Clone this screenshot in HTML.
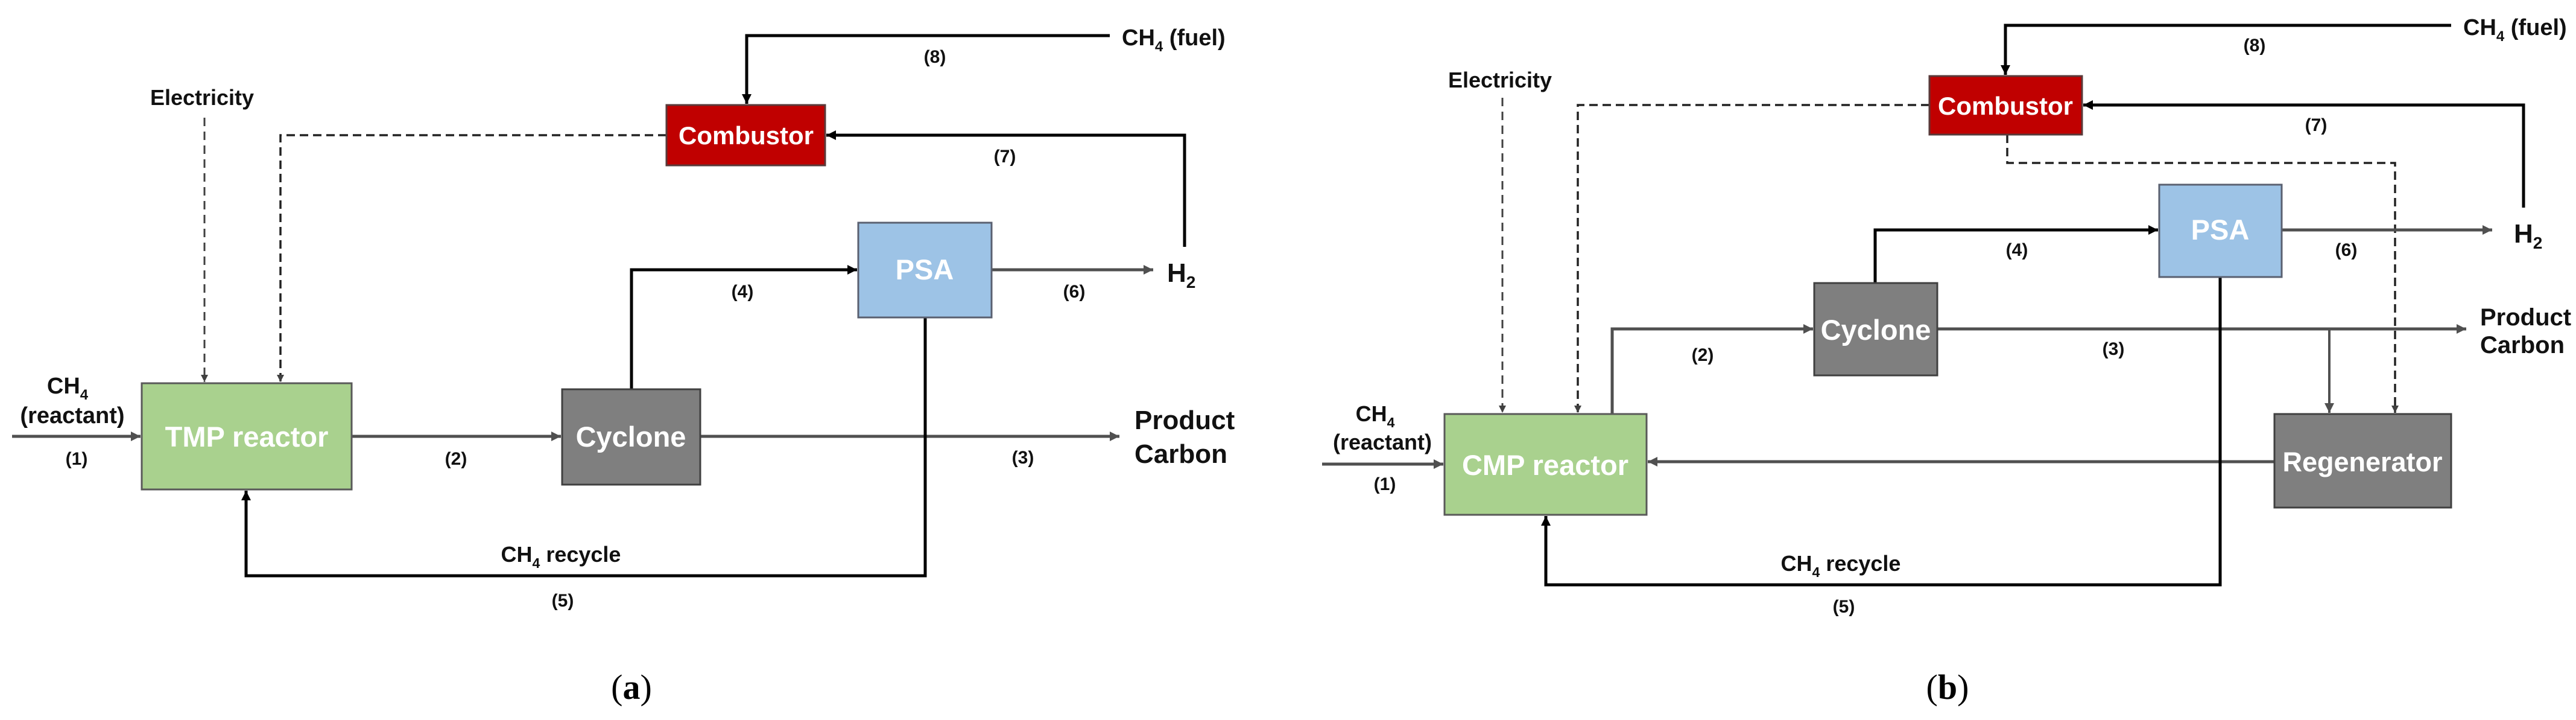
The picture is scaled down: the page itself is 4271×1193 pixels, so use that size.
<!DOCTYPE html>
<html><head><meta charset="utf-8"><style>
html,body{margin:0;padding:0;background:#fff}
svg{display:block}
text{font-family:"Liberation Sans",Arial,sans-serif;font-weight:bold;fill:#111}
.lab{font-size:30px}
.box{font-size:47px;fill:#fff}
.cap{font-family:"Liberation Serif",serif;font-weight:normal;font-size:58px;fill:#000}
</style></head><body>
<svg width="4271" height="1193" viewBox="0 0 4271 1193" xmlns="http://www.w3.org/2000/svg">
<defs>
<marker id="ab" markerUnits="userSpaceOnUse" markerWidth="20" markerHeight="20" refX="16" refY="8" orient="auto"><path d="M0,0 L16,8 L0,16 z" fill="#000"/></marker>
<marker id="ag" markerUnits="userSpaceOnUse" markerWidth="20" markerHeight="20" refX="16" refY="8" orient="auto"><path d="M0,0 L16,8 L0,16 z" fill="#505050"/></marker>
<marker id="ad" markerUnits="userSpaceOnUse" markerWidth="16" markerHeight="16" refX="12" refY="6" orient="auto"><path d="M0,0 L12,6 L0,12 z" fill="#404040"/></marker>
</defs>

<!-- ===== Panel (a) ===== -->
<g fill="none">
<path d="M1840,59 H1238 V172" stroke="#000" stroke-width="5" marker-end="url(#ab)"/>
<path d="M1964,409 V224 H1370" stroke="#000" stroke-width="5" marker-end="url(#ab)"/>
<path d="M339,195 V633" stroke="#404040" stroke-width="3" stroke-dasharray="14,9" marker-end="url(#ad)"/>
<path d="M1105,224 H465 V633" stroke="#222" stroke-width="3.5" stroke-dasharray="14,8" marker-end="url(#ad)"/>
<path d="M1047,645 V447 H1421" stroke="#000" stroke-width="5" marker-end="url(#ab)"/>
<path d="M1644,447 H1912" stroke="#505050" stroke-width="5" marker-end="url(#ag)"/>
<path d="M20,723 H233" stroke="#505050" stroke-width="5" marker-end="url(#ag)"/>
<path d="M583,723 H930" stroke="#505050" stroke-width="5" marker-end="url(#ag)"/>
<path d="M1161,723 H1856" stroke="#505050" stroke-width="5" marker-end="url(#ag)"/>
<path d="M1534,526 V954 H408 V813" stroke="#000" stroke-width="5" marker-end="url(#ab)"/>
</g>
<rect x="1105" y="174" width="263" height="100" fill="#c00000" stroke="#5a3a3a" stroke-width="3"/>
<rect x="1423" y="369" width="221" height="157" fill="#9dc3e6" stroke="#5a6070" stroke-width="3"/>
<rect x="235" y="635" width="348" height="176" fill="#a9d18e" stroke="#595959" stroke-width="3"/>
<rect x="932" y="645" width="229" height="158" fill="#7f7f7f" stroke="#404040" stroke-width="3"/>
<text class="box" x="1237" y="239" text-anchor="middle" style="font-size:42px">Combustor</text>
<text class="box" x="1533" y="463" text-anchor="middle">PSA</text>
<text class="box" x="409" y="740" text-anchor="middle">TMP reactor</text>
<text class="box" x="1046" y="740" text-anchor="middle">Cyclone</text>
<text x="1860" y="75" style="font-size:38px">CH<tspan dy="10" style="font-size:24px">4</tspan><tspan dy="-10"> (fuel)</tspan></text>
<text class="lab" x="1550" y="104" text-anchor="middle">(8)</text>
<text x="335" y="174" text-anchor="middle" style="font-size:36px">Electricity</text>
<text class="lab" x="1666" y="269" text-anchor="middle">(7)</text>
<text class="lab" x="1231" y="493" text-anchor="middle">(4)</text>
<text class="lab" x="1781" y="493" text-anchor="middle">(6)</text>
<text x="1935" y="467" style="font-size:44px">H<tspan dy="10" style="font-size:28px">2</tspan></text>
<text x="112" y="652" text-anchor="middle" style="font-size:38px">CH<tspan dy="10" style="font-size:24px">4</tspan></text>
<text x="120" y="701" text-anchor="middle" style="font-size:38px">(reactant)</text>
<text class="lab" x="127" y="770" text-anchor="middle">(1)</text>
<text class="lab" x="756" y="770" text-anchor="middle">(2)</text>
<text class="lab" x="1696" y="768" text-anchor="middle">(3)</text>
<text x="1881" y="711" style="font-size:44px">Product</text>
<text x="1881" y="767" style="font-size:44px">Carbon</text>
<text x="930" y="931" text-anchor="middle" style="font-size:36px">CH<tspan dy="10" style="font-size:23px">4</tspan><tspan dy="-10"> recycle</tspan></text>
<text class="lab" x="933" y="1005" text-anchor="middle">(5)</text>
<text class="cap" x="1047" y="1158" text-anchor="middle">(<tspan font-weight="bold">a</tspan>)</text>

<!-- ===== Panel (b) ===== -->
<g fill="none">
<path d="M4064,42 H3325 V124" stroke="#000" stroke-width="5" marker-end="url(#ab)"/>
<path d="M4184,344 V174 H3454" stroke="#000" stroke-width="5" marker-end="url(#ab)"/>
<path d="M2491,162 V684" stroke="#404040" stroke-width="3" stroke-dasharray="14,9" marker-end="url(#ad)"/>
<path d="M3199,174 H2616 V684" stroke="#222" stroke-width="3.5" stroke-dasharray="14,8" marker-end="url(#ad)"/>
<path d="M3328,223 V270 H3971 V684" stroke="#222" stroke-width="3.5" stroke-dasharray="14,8" marker-end="url(#ad)"/>
<path d="M3109,469 V381 H3578" stroke="#000" stroke-width="5" marker-end="url(#ab)"/>
<path d="M3783,381 H4132" stroke="#505050" stroke-width="5" marker-end="url(#ag)"/>
<path d="M2673,686 V545 H3006" stroke="#505050" stroke-width="5" marker-end="url(#ag)"/>
<path d="M3212,545 H4089" stroke="#505050" stroke-width="5" marker-end="url(#ag)"/>
<path d="M3862,545 V684" stroke="#505050" stroke-width="4" marker-end="url(#ag)"/>
<path d="M3771,765 H2732" stroke="#505050" stroke-width="5" marker-end="url(#ag)"/>
<path d="M2192,769 H2393" stroke="#505050" stroke-width="5" marker-end="url(#ag)"/>
<path d="M3681,459 V969 H2563 V855" stroke="#000" stroke-width="5" marker-end="url(#ab)"/>
</g>
<rect x="3199" y="126" width="253" height="97" fill="#c00000" stroke="#5a3a3a" stroke-width="3"/>
<rect x="3580" y="306" width="203" height="153" fill="#9dc3e6" stroke="#5a6070" stroke-width="3"/>
<rect x="3008" y="469" width="204" height="153" fill="#7f7f7f" stroke="#404040" stroke-width="3"/>
<rect x="3771" y="686" width="293" height="155" fill="#7f7f7f" stroke="#404040" stroke-width="3"/>
<rect x="2395" y="686" width="335" height="167" fill="#a9d18e" stroke="#595959" stroke-width="3"/>
<text class="box" x="3325" y="190" text-anchor="middle" style="font-size:42px">Combustor</text>
<text class="box" x="3681" y="397" text-anchor="middle">PSA</text>
<text class="box" x="3110" y="563" text-anchor="middle">Cyclone</text>
<text class="box" x="3917" y="781" text-anchor="middle" style="font-size:45px">Regenerator</text>
<text class="box" x="2562" y="787" text-anchor="middle">CMP reactor</text>
<text x="4084" y="58" style="font-size:38px">CH<tspan dy="10" style="font-size:24px">4</tspan><tspan dy="-10"> (fuel)</tspan></text>
<text class="lab" x="3738" y="85" text-anchor="middle">(8)</text>
<text x="2487" y="145" text-anchor="middle" style="font-size:36px">Electricity</text>
<text class="lab" x="3840" y="217" text-anchor="middle">(7)</text>
<text class="lab" x="3344" y="424" text-anchor="middle">(4)</text>
<text class="lab" x="3890" y="424" text-anchor="middle">(6)</text>
<text x="4168" y="402" style="font-size:44px">H<tspan dy="10" style="font-size:28px">2</tspan></text>
<text x="4112" y="539" style="font-size:40px">Product</text>
<text x="4112" y="585" style="font-size:40px">Carbon</text>
<text class="lab" x="2823" y="598" text-anchor="middle">(2)</text>
<text class="lab" x="3504" y="588" text-anchor="middle">(3)</text>
<text x="2280" y="698" text-anchor="middle" style="font-size:36px">CH<tspan dy="10" style="font-size:23px">4</tspan></text>
<text x="2292" y="745" text-anchor="middle" style="font-size:36px">(reactant)</text>
<text class="lab" x="2296" y="812" text-anchor="middle">(1)</text>
<text x="3052" y="946" text-anchor="middle" style="font-size:36px">CH<tspan dy="10" style="font-size:23px">4</tspan><tspan dy="-10"> recycle</tspan></text>
<text class="lab" x="3057" y="1015" text-anchor="middle">(5)</text>
<text class="cap" x="3229" y="1158" text-anchor="middle">(<tspan font-weight="bold">b</tspan>)</text>
</svg>
</body></html>
